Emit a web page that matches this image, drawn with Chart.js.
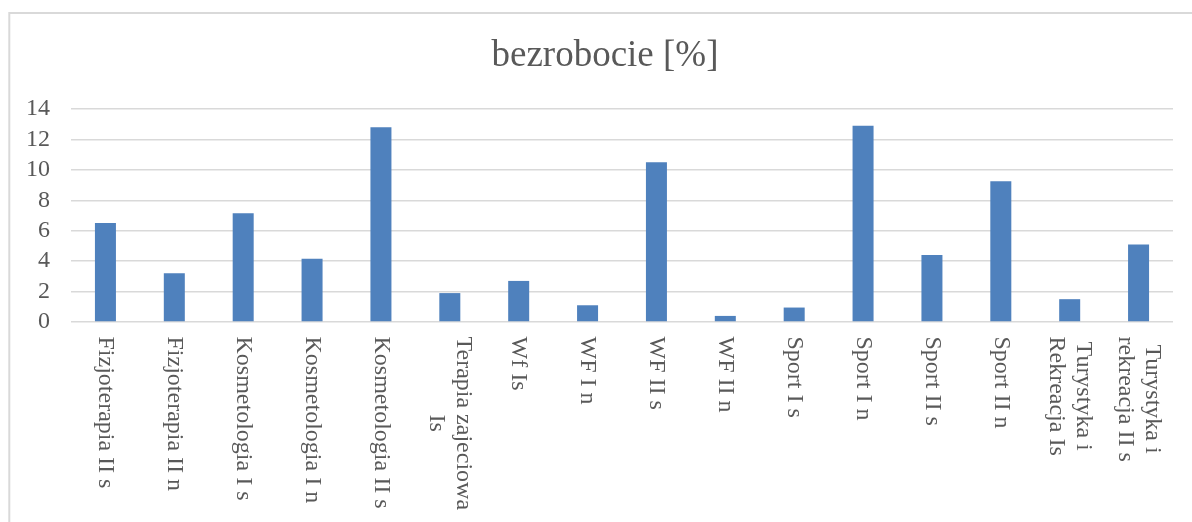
<!DOCTYPE html>
<html>
<head>
<meta charset="utf-8">
<script src="https://cdn.jsdelivr.net/npm/chart.js@4/dist/chart.umd.min.js"></script>
<style>
  html, body { margin: 0; padding: 0; background: #ffffff; }
  #wrap { width: 1192px; height: 522px; }
</style>
</head>
<body>
<div id="wrap"><canvas id="c" width="1192" height="522"></canvas></div>
<script>
const categories = [
  "Fizjoterapia II s",
  "Fizjoterapia II n",
  "Kosmetologia I s",
  "Kosmetologia I n",
  "Kosmetologia II s",
  ["Terapia zajeciowa", "Is"],
  "Wf Is",
  "WF I n",
  "WF II s",
  "WF II n",
  "Sport I s",
  "Sport I n",
  "Sport II s",
  "Sport II n",
  ["Turystyka i", "Rekreacja Is"],
  ["Turystyka i", "rekreacja II s"]
];
const unemployment = [6.5, 3.2, 7.15, 4.15, 12.8, 1.9, 2.7, 1.1, 10.5, 0.4, 0.95, 12.9, 4.4, 9.25, 1.5, 5.1];
const yTicks = [0, 2, 4, 6, 8, 10, 12, 14];
const chartTitle = "bezrobocie [%]";

const FONT = "'Liberation Serif', 'Times New Roman', serif";
const TEXT = "#595959";

const frame = {
  id: 'frame',
  beforeDraw(chart) {
    const ctx = chart.ctx;
    ctx.save();
    ctx.fillStyle = '#ffffff';
    ctx.fillRect(0, 0, chart.width, chart.height);
    ctx.strokeStyle = '#d9d9d9';
    ctx.lineWidth = 2;
    ctx.strokeRect(9.3, 13, 1300, 600);
    ctx.restore();
  },
  afterDraw(chart) {
    const ctx = chart.ctx;
    ctx.save();
    ctx.font = "37px " + FONT;
    ctx.fillStyle = TEXT;
    ctx.textAlign = 'center';
    ctx.textBaseline = 'middle';
    ctx.fillText(chartTitle, 605, 56);
    ctx.restore();
  }
};

const verticalLabels = {
  id: 'verticalLabels',
  afterDraw(chart) {
    const ctx = chart.ctx;
    const xs = chart.scales.x;
    const lineH = 27.5;
    ctx.save();
    ctx.font = "24px " + FONT;
    ctx.fillStyle = TEXT;
    ctx.textAlign = 'center';
    ctx.textBaseline = 'middle';
    categories.forEach((lab, i) => {
      const lines = Array.isArray(lab) ? lab : [lab];
      const maxW = Math.max(...lines.map(l => ctx.measureText(l).width));
      const px = xs.getPixelForTick(i);
      ctx.save();
      ctx.translate(px, xs.top + 14.5);
      ctx.rotate(Math.PI / 2);
      lines.forEach((l, k) => {
        ctx.fillText(l, maxW / 2, (k - (lines.length - 1) / 2) * lineH);
      });
      ctx.restore();
    });
    ctx.restore();
  }
};

new Chart(document.getElementById('c'), {
  type: 'bar',
  data: {
    labels: categories,
    datasets: [{
      data: unemployment,
      backgroundColor: '#4f81bd',
      borderWidth: 0,
      categoryPercentage: 1.0,
      barPercentage: 0.305
    }]
  },
  options: {
    responsive: false,
    animation: false,
    devicePixelRatio: 1,
    layout: { padding: { left: 0, right: 19, top: 109, bottom: 0 } },
    plugins: {
      legend: { display: false },
      tooltip: { enabled: false },
      title: { display: false }
    },
    scales: {
      x: {
        grid: { display: false },
        border: { display: false },
        ticks: { display: false },
        afterFit(scale) { scale.height = 200; }
      },
      y: {
        min: 0,
        max: 14,
        afterBuildTicks(scale) { scale.ticks = yTicks.map(v => ({ value: v })); },
        grid: { color: '#d9d9d9', lineWidth: 1.5, drawTicks: false },
        border: { display: false },
        ticks: {
          color: TEXT,
          padding: 21,
          autoSkip: false,
          font: { family: FONT, size: 24 }
        },
        afterFit(scale) { scale.width = 71; }
      }
    }
  },
  plugins: [frame, verticalLabels]
});
</script>
</body>
</html>
